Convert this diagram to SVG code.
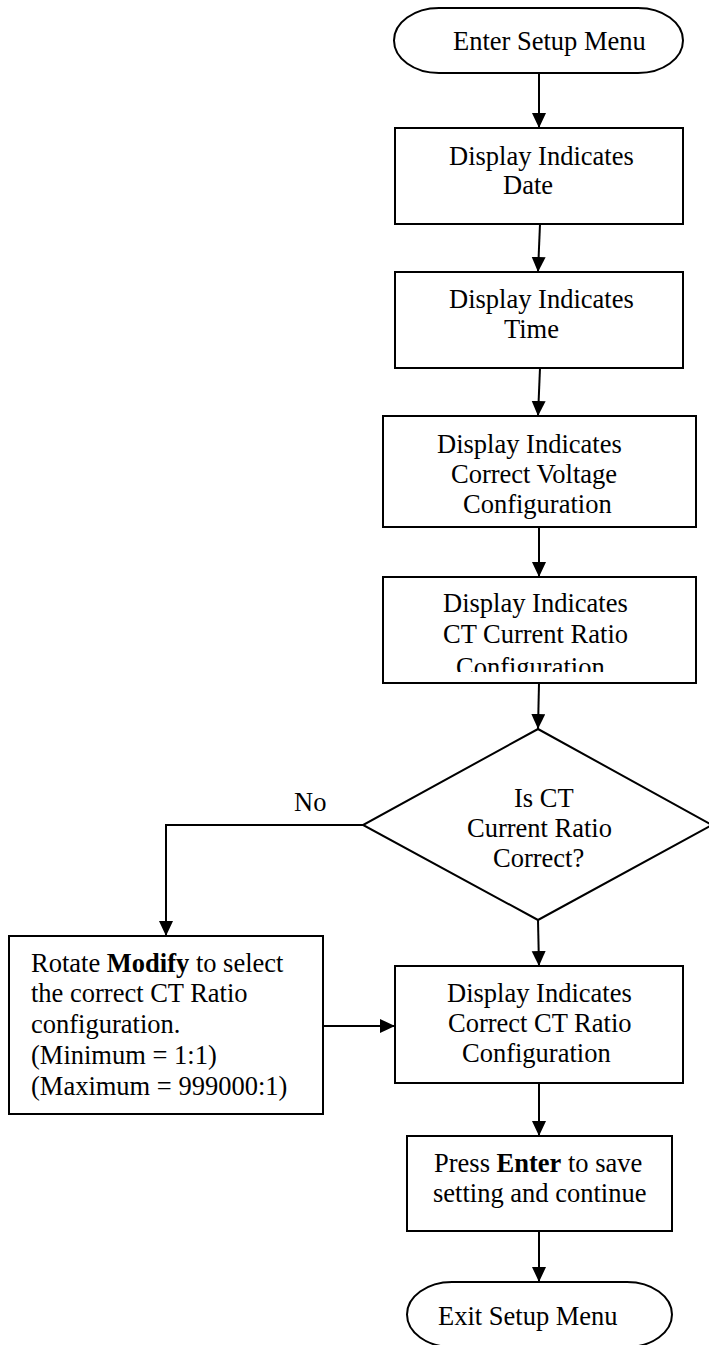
<svg xmlns="http://www.w3.org/2000/svg" width="709" height="1345" viewBox="0 0 709 1345">
<style>
.shape{fill:#fff;stroke:#000;stroke-width:2}
.t{font-family:"Liberation Serif","Times New Roman",serif;font-size:26.5px;fill:#000}
.b{font-weight:bold}
.c{fill:none;stroke:#000;stroke-width:2}
</style>
<defs>
<marker id="arr" markerUnits="userSpaceOnUse" markerWidth="16" markerHeight="15" refX="15" refY="7" orient="auto">
<path d="M0,0 L15,7 L0,14 z" fill="#000"/>
</marker>
<clipPath id="ctclip"><rect x="383" y="577" width="313" height="95"/></clipPath>
</defs>
<rect width="709" height="1345" fill="#fff"/>
<g id="connectors">
<line class="c" x1="539" y1="73" x2="539" y2="128" marker-end="url(#arr)"/>
<line class="c" x1="540" y1="224" x2="538" y2="272" marker-end="url(#arr)"/>
<line class="c" x1="540" y1="368" x2="538" y2="416" marker-end="url(#arr)"/>
<line class="c" x1="539" y1="527" x2="539" y2="577" marker-end="url(#arr)"/>
<line class="c" x1="539" y1="683" x2="538" y2="729" marker-end="url(#arr)"/>
<polyline class="c" points="363,825 166,825 166,936" marker-end="url(#arr)"/>
<line class="c" x1="538" y1="920" x2="539" y2="966" marker-end="url(#arr)"/>
<line class="c" x1="323" y1="1026" x2="395" y2="1026" marker-end="url(#arr)"/>
<line class="c" x1="539" y1="1083" x2="539" y2="1136" marker-end="url(#arr)"/>
<line class="c" x1="539" y1="1231" x2="539" y2="1282" marker-end="url(#arr)"/>
<text class="t" x="294" y="811">No</text>
</g>
<g id="start">
<rect class="shape" x="394" y="8" width="289" height="65" rx="45" ry="32.5"/>
<text class="t" x="453" y="50">Enter Setup Menu</text>
</g>
<g id="date">
<rect class="shape" x="395" y="128" width="288" height="96"/>
<text class="t" x="449" y="165">Display Indicates</text>
<text class="t" x="503" y="194">Date</text>
</g>
<g id="time">
<rect class="shape" x="395" y="272" width="288" height="96"/>
<text class="t" x="449" y="308">Display Indicates</text>
<text class="t" x="504" y="338">Time</text>
</g>
<g id="voltage">
<rect class="shape" x="383" y="416" width="313" height="111"/>
<text class="t" x="437" y="453">Display Indicates</text>
<text class="t" x="451" y="483">Correct Voltage</text>
<text class="t" x="463" y="513">Configuration</text>
</g>
<g id="ct">
<rect class="shape" x="383" y="577" width="313" height="106"/>
<text class="t" x="443" y="612">Display Indicates</text>
<text class="t" x="443" y="643">CT Current Ratio</text>
<text class="t" x="456" y="676" clip-path="url(#ctclip)">Configuration</text>
</g>
<g id="decision">
<polygon class="shape" points="538,729 712,825 538,920 363,825"/>
<text class="t" x="514" y="807">Is CT</text>
<text class="t" x="467" y="837">Current Ratio</text>
<text class="t" x="493" y="867">Correct?</text>
</g>
<g id="rotate">
<rect class="shape" x="9" y="936" width="314" height="178"/>
<text class="t" x="31" y="972">Rotate <tspan class="b">Modify</tspan> to select</text>
<text class="t" x="31" y="1002">the correct CT Ratio</text>
<text class="t" x="31" y="1033">configuration.</text>
<text class="t" x="31" y="1064">(Minimum = 1:1)</text>
<text class="t" x="31" y="1095">(Maximum = 999000:1)</text>
</g>
<g id="correct">
<rect class="shape" x="395" y="966" width="288" height="117"/>
<text class="t" x="447" y="1002">Display Indicates</text>
<text class="t" x="448" y="1032">Correct CT Ratio</text>
<text class="t" x="462" y="1062">Configuration</text>
</g>
<g id="press">
<rect class="shape" x="407" y="1136" width="265" height="95"/>
<text class="t" x="434" y="1172">Press <tspan class="b">Enter</tspan> to save</text>
<text class="t" x="433" y="1202">setting and continue</text>
</g>
<g id="exit">
<rect class="shape" x="407" y="1282" width="265" height="65" rx="45" ry="32.5"/>
<text class="t" x="438" y="1325">Exit Setup Menu</text>
</g>
</svg>
